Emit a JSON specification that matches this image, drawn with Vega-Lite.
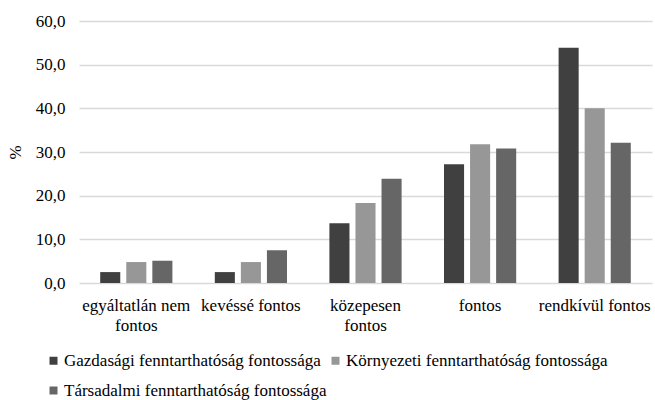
{
  "$schema": "https://vega.github.io/schema/vega-lite/v6.json",
  "autosize": {"type": "none"},
  "width": 573,
  "height": 262,
  "padding": {"left": 79, "top": 21, "right": 3, "bottom": 117},
  "background": "white",
  "config": {
    "font": "Liberation Serif",
    "view": {"stroke": null}
  },
  "data": {
    "values": [
      {"kategoria": "egyáltatlán nem fontos", "szempont": "Gazdasági fenntarthatóság fontossága", "ertek": 2.5},
      {"kategoria": "egyáltatlán nem fontos", "szempont": "Környezeti fenntarthatóság fontossága", "ertek": 4.8},
      {"kategoria": "egyáltatlán nem fontos", "szempont": "Társadalmi fenntarthatóság fontossága", "ertek": 5.1},
      {"kategoria": "kevéssé fontos", "szempont": "Gazdasági fenntarthatóság fontossága", "ertek": 2.5},
      {"kategoria": "kevéssé fontos", "szempont": "Környezeti fenntarthatóság fontossága", "ertek": 4.8},
      {"kategoria": "kevéssé fontos", "szempont": "Társadalmi fenntarthatóság fontossága", "ertek": 7.5},
      {"kategoria": "közepesen fontos", "szempont": "Gazdasági fenntarthatóság fontossága", "ertek": 13.7},
      {"kategoria": "közepesen fontos", "szempont": "Környezeti fenntarthatóság fontossága", "ertek": 18.3},
      {"kategoria": "közepesen fontos", "szempont": "Társadalmi fenntarthatóság fontossága", "ertek": 23.9},
      {"kategoria": "fontos", "szempont": "Gazdasági fenntarthatóság fontossága", "ertek": 27.2},
      {"kategoria": "fontos", "szempont": "Környezeti fenntarthatóság fontossága", "ertek": 31.8},
      {"kategoria": "fontos", "szempont": "Társadalmi fenntarthatóság fontossága", "ertek": 30.8},
      {"kategoria": "rendkívül fontos", "szempont": "Gazdasági fenntarthatóság fontossága", "ertek": 53.9},
      {"kategoria": "rendkívül fontos", "szempont": "Környezeti fenntarthatóság fontossága", "ertek": 40.0},
      {"kategoria": "rendkívül fontos", "szempont": "Társadalmi fenntarthatóság fontossága", "ertek": 32.1}
    ]
  },
  "mark": {"type": "bar"},
  "encoding": {
    "x": {
      "field": "kategoria",
      "type": "nominal",
      "sort": null,
      "scale": {"paddingInner": 0.37, "paddingOuter": 0.185},
      "axis": {
        "title": null,
        "domain": false,
        "ticks": false,
        "labelAngle": 0,
        "labelFontSize": 17,
        "labelColor": "#000000",
        "labelPadding": 14,
        "labelLineHeight": 20,
        "labelLimit": 200,
        "labelExpr": "datum.label == 'egyáltatlán nem fontos' ? ['egyáltatlán nem', 'fontos'] : datum.label == 'közepesen fontos' ? ['közepesen', 'fontos'] : datum.label"
      }
    },
    "xOffset": {
      "field": "szempont",
      "type": "nominal",
      "sort": null,
      "scale": {"paddingInner": 0.23, "paddingOuter": 0}
    },
    "y": {
      "field": "ertek",
      "type": "quantitative",
      "scale": {"domain": [0, 60], "nice": false},
      "axis": {
        "title": "%",
        "titleFontSize": 17,
        "titleFontWeight": "normal",
        "titleColor": "#000000",
        "titlePadding": 11,
        "values": [0, 10, 20, 30, 40, 50, 60],
        "labelExpr": "replace(format(datum.value, '.1f'), '.', ',')",
        "labelFontSize": 17,
        "labelColor": "#000000",
        "labelPadding": 14,
        "domain": false,
        "ticks": false,
        "grid": true,
        "gridColor": "#d9d9d9",
        "gridWidth": 1.3
      }
    },
    "color": {
      "field": "szempont",
      "type": "nominal",
      "sort": null,
      "scale": {
        "domain": [
          "Gazdasági fenntarthatóság fontossága",
          "Környezeti fenntarthatóság fontossága",
          "Társadalmi fenntarthatóság fontossága"
        ],
        "range": ["#404040", "#979797", "#666666"]
      },
      "legend": {
        "title": null,
        "orient": "none",
        "legendX": -34,
        "legendY": 331,
        "direction": "horizontal",
        "columns": 2,
        "columnPadding": 0,
        "rowPadding": 12,
        "symbolType": "square",
        "symbolSize": 64,
        "symbolStrokeWidth": 0,
        "labelOffset": 2,
        "labelFontSize": 17,
        "labelColor": "#000000",
        "labelLimit": 400
      }
    }
  }
}
